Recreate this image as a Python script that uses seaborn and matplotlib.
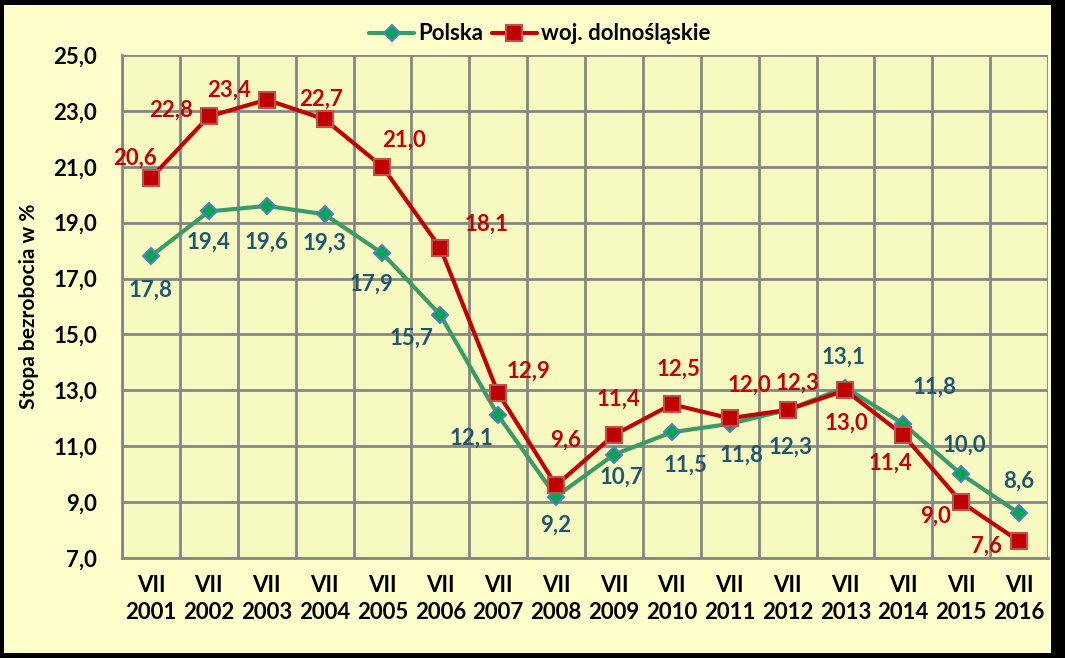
import matplotlib
matplotlib.use("Agg")
import matplotlib.pyplot as plt
import matplotlib.patches as mpatches
from matplotlib.ticker import FixedLocator, FuncFormatter
import seaborn as sns
import pandas as pd
import numpy as np

years = ["2001", "2002", "2003", "2004", "2005", "2006", "2007", "2008",
         "2009", "2010", "2011", "2012", "2013", "2014", "2015", "2016"]
month = "VII"
polska = [17.8, 19.4, 19.6, 19.3, 17.9, 15.7, 12.1, 9.2, 10.7, 11.5, 11.8, 12.3, 13.1, 11.8, 10.0, 8.6]
dolnoslaskie = [20.6, 22.8, 23.4, 22.7, 21.0, 18.1, 12.9, 9.6, 11.4, 12.5, 12.0, 12.3, 13.0, 11.4, 9.0, 7.6]
series_names = ["Polska", "woj. dolnośląskie"]
y_ticks = [7.0, 9.0, 11.0, 13.0, 15.0, 17.0, 19.0, 21.0, 23.0, 25.0]

# label offsets in pixels (dx, dy) relative to the point
pl_off = [(0, -34), (0, -31), (0, -36), (0, -29), (-11, -31), (-29, -23), (-27, -23), (0, -29),
          (7, -23), (14, -33), (12, -31), (3, -37), (-2, 30), (31, 37), (3, 29), (0, 32)]
dl_off = [(-16, 20), (-38, 6), (-38, 10), (-3, 20), (22, 27), (46, 24), (30, 22), (10, 45),
          (5, 36), (7, 35), (20, 33), (10, 27), (1, -33), (-13, -28), (-26, -14), (-33, -5)]

sns.set_theme(style="white")
plt.rcParams['font.family'] = ['Lato', 'DejaVu Sans']
plt.rcParams['font.weight'] = 'bold'

outer_bg = "#FFFFCC"
inner_bg = "#F7FAC0"
grid_c = "#868686"
red = "#C00000"
green = "#3A9A68"
blue_lbl = "#1F5670"
FS = 16

df = pd.DataFrame({
    "idx": list(range(len(years))) * 2,
    "value": polska + dolnoslaskie,
    "series": [series_names[0]] * len(years) + [series_names[1]] * len(years),
})

fig = plt.figure(figsize=(10.65, 6.58), dpi=100)
fig.patch.set_facecolor("black")
fig.patches.append(mpatches.Rectangle((4 / 1065, 5 / 658), (1051 - 4) / 1065, (653 - 5) / 658,
                                      transform=fig.transFigure, facecolor=outer_bg,
                                      edgecolor="none", zorder=-10))

ax = fig.add_axes([122 / 1065, 1 - 558 / 658, (1048 - 122) / 1065, (558 - 55) / 658])
ax.set_facecolor(inner_bg)

sns.lineplot(data=df[df.series == series_names[0]], x="idx", y="value", ax=ax,
             color=green, linewidth=3, marker="D", markersize=8,
             markerfacecolor="#00A650", markeredgecolor="#4F81BD", markeredgewidth=1.5,
             label=series_names[0], zorder=3)
sns.lineplot(data=df[df.series == series_names[1]], x="idx", y="value", ax=ax,
             color=red, linewidth=3, marker="s", markersize=12,
             markerfacecolor=red, markeredgecolor="#C0504D", markeredgewidth=1.5,
             label=series_names[1], zorder=4)

ax.set_xlim(-0.5, len(years) - 0.5)
ax.set_ylim(7.0, 25.0)
ax.yaxis.set_major_locator(FixedLocator(y_ticks))
ax.yaxis.set_major_formatter(FuncFormatter(lambda v, p: f"{v:.1f}".replace(".", ",")))
ax.set_xticks(range(len(years)))
ax.set_xticklabels([f"{month}\n{y}" for y in years], linespacing=1.4)
ax.set_xticks(np.arange(-0.5, len(years), 1.0), minor=True)
ax.tick_params(axis="x", which="major", length=0, pad=12, labelsize=FS)
ax.tick_params(axis="x", which="minor", length=6, width=2, color=grid_c, direction="out")
ax.tick_params(axis="y", which="major", length=8, width=2, color=grid_c, direction="out",
               pad=10, labelsize=FS)
for lbl in ax.get_xticklabels() + ax.get_yticklabels():
    lbl.set_fontweight("bold")
    lbl.set_color("black")
ax.grid(axis="y", which="major", color=grid_c, linewidth=2)
ax.grid(axis="x", which="minor", color=grid_c, linewidth=2)
ax.grid(axis="x", which="major", visible=False)
ax.set_axisbelow(True)
for s in ax.spines.values():
    s.set_visible(False)
ax.spines["left"].set_visible(True)
ax.spines["left"].set_color(grid_c)
ax.spines["left"].set_linewidth(2)
ax.spines["bottom"].set_visible(True)
ax.spines["bottom"].set_color(grid_c)
ax.spines["bottom"].set_linewidth(2)
ax.set_xlabel("")
ax.set_ylabel("Stopa bezrobocia w %", fontsize=15, fontweight="bold", color="black", labelpad=10)

for i, v in enumerate(polska):
    ax.annotate(f"{v:.1f}".replace(".", ","), (i, v), xytext=pl_off[i], textcoords="offset pixels",
                ha="center", va="center", fontsize=FS, fontweight="bold", color=blue_lbl, zorder=6)
for i, v in enumerate(dolnoslaskie):
    ax.annotate(f"{v:.1f}".replace(".", ","), (i, v), xytext=dl_off[i], textcoords="offset pixels",
                ha="center", va="center", fontsize=FS, fontweight="bold", color=red, zorder=6)

leg = ax.legend(loc="center", bbox_to_anchor=(540 / 1065, 1 - 34 / 658), bbox_transform=fig.transFigure,
                ncol=2, frameon=False, handlelength=2.0, handletextpad=0.2,
                columnspacing=0.4, prop={"weight": "bold", "size": 16})
for t in leg.get_texts():
    t.set_color("black")

fig.savefig("out.png", dpi=100, facecolor=fig.get_facecolor())
